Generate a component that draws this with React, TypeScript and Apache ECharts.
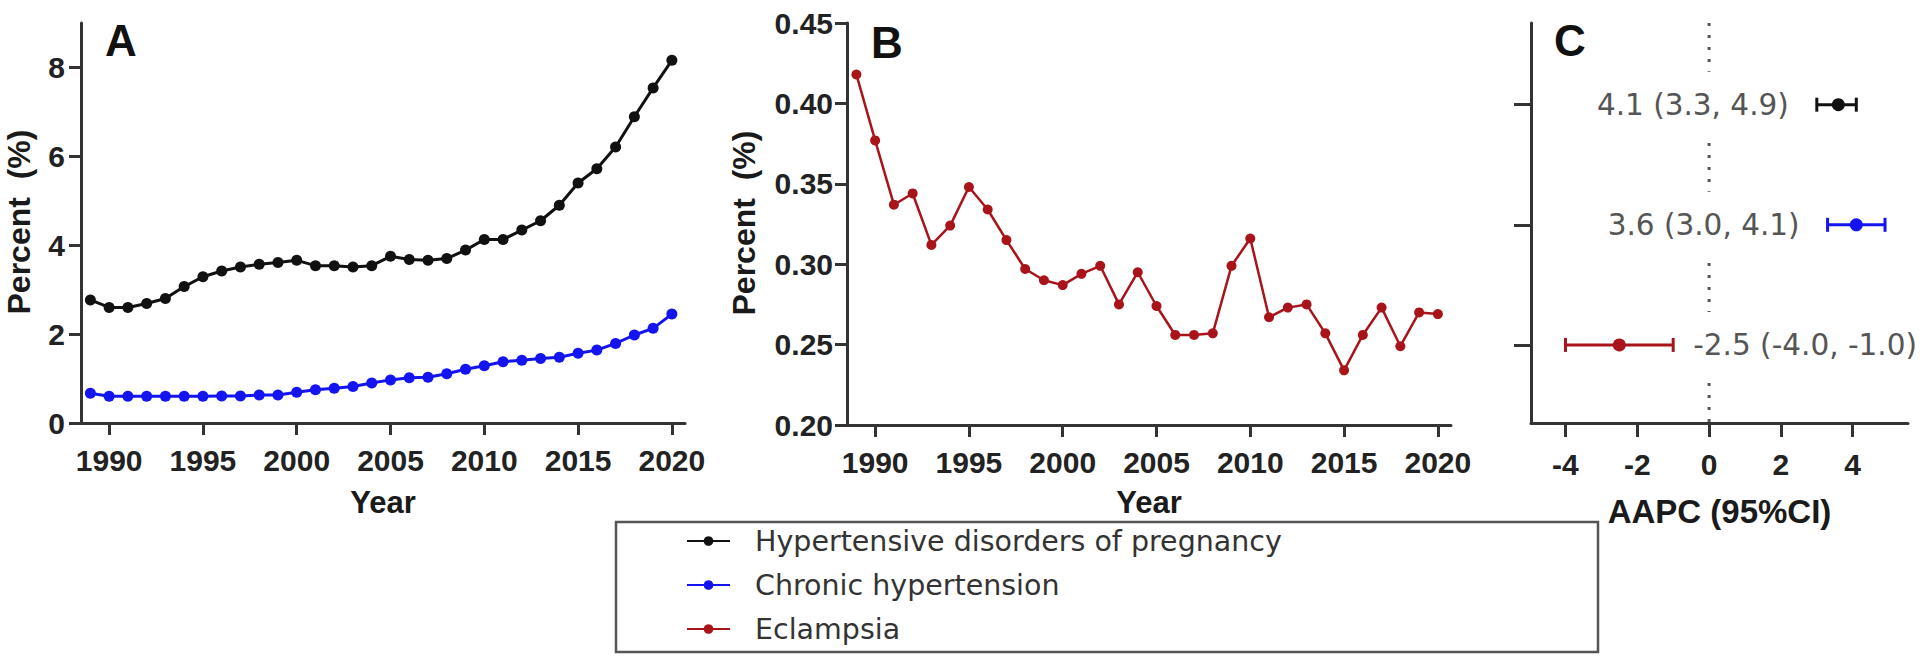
import React, { useEffect, useRef } from 'react';
import * as echarts from 'echarts';

// ---------- data ----------
const years = [
  1989, 1990, 1991, 1992, 1993, 1994, 1995, 1996, 1997, 1998, 1999, 2000, 2001, 2002, 2003, 2004,
  2005, 2006, 2007, 2008, 2009, 2010, 2011, 2012, 2013, 2014, 2015, 2016, 2017, 2018, 2019, 2020,
];
const yearTicks = [1990, 1995, 2000, 2005, 2010, 2015, 2020];

// Panel A (%)
const hdpValues = [
  2.77, 2.6, 2.6, 2.69, 2.8, 3.07, 3.29, 3.42, 3.51, 3.57, 3.61, 3.66, 3.54, 3.54, 3.51, 3.54,
  3.75, 3.68, 3.66, 3.7, 3.89, 4.13, 4.13, 4.34, 4.55, 4.9, 5.4, 5.72, 6.21, 6.89, 7.54, 8.16,
];
const chronicValues = [
  0.67, 0.6, 0.6, 0.6, 0.6, 0.6, 0.6, 0.61, 0.61, 0.63, 0.63, 0.69, 0.75, 0.78, 0.82, 0.9,
  0.97, 1.02, 1.03, 1.11, 1.21, 1.29, 1.38, 1.41, 1.45, 1.48, 1.57, 1.64, 1.79, 1.98, 2.13, 2.45,
];
const aTicks = [0, 2, 4, 6, 8];

// Panel B (%)
const eclampsiaValues = [
  0.418, 0.377, 0.337, 0.344, 0.312, 0.324, 0.348, 0.334, 0.315, 0.297, 0.29, 0.287, 0.294, 0.299,
  0.275, 0.295, 0.274, 0.256, 0.256, 0.257, 0.299, 0.316, 0.267, 0.273, 0.275, 0.257, 0.234, 0.256,
  0.273, 0.249, 0.27, 0.269,
];
const bTicks = [0.2, 0.25, 0.3, 0.35, 0.4, 0.45];

// Panel C (AAPC with 95% CI), as drawn
const ciRows = [1, 2, 3];
const ciEstimate = [3.6, 4.1, -2.5];
const ciLow = [3.0, 3.3, -4.0];
const ciHigh = [4.1, 4.9, -1.0];
const ciLabels = ['4.1 (3.3, 4.9)', '3.6 (3.0, 4.1)', '-2.5 (-4.0, -1.0)'];
const cTicks = [-4, -2, 0, 2, 4];

const seriesNames = ['Hypertensive disorders of pregnancy', 'Chronic hypertension', 'Eclampsia'];

// ---------- styles ----------
const FONT_BOLD = '"Liberation Sans", Arial, sans-serif';
const FONT_REG = '"DejaVu Sans", "Liberation Sans", sans-serif';
const COL_BLACK = '#111111';
const COL_BLUE = '#1414f0';
const COL_RED = '#a8141a';
const ciColors = [COL_BLACK, COL_BLUE, COL_RED];
const ciLabelSide = ['left', 'left', 'right'];
const C_Y_MIN = 0.32;
const C_Y_MAX = 3.65;

export default function App() {
  const ref = useRef<HTMLDivElement>(null);

  useEffect(() => {
    if (!ref.current) return;
    const chart = echarts.init(ref.current, null, { renderer: 'svg' });

    const axisLine = { show: true, onZero: false, lineStyle: { color: '#333', width: 3 } };
    const tick = (len: number, values: number[]) => ({
      show: true,
      length: len,
      customValues: values,
      lineStyle: { color: '#333', width: 3 },
    });
    const label = (margin: number, values: number[], fmt?: (v: number) => string) => ({
      show: true,
      margin,
      customValues: values,
      fontSize: 30,
      fontWeight: 'bold',
      fontFamily: FONT_BOLD,
      color: '#222',
      formatter: fmt,
    });
    const nameStyle = (size: number) => ({
      fontSize: size,
      fontWeight: 'bold',
      fontFamily: FONT_BOLD,
      color: '#1a1a1a',
    });

    const option: any = {
      animation: false,
      backgroundColor: '#ffffff',
      grid: [
        { left: 81, top: 23, width: 604, height: 400 },
        { left: 847, top: 23, width: 604, height: 402 },
        { left: 1531, top: 23, width: 377, height: 400 },
      ],
      xAxis: [
        {
          gridIndex: 0,
          type: 'value',
          min: 1988.5,
          max: 2020.7,
          axisLine,
          axisTick: tick(12, yearTicks),
          axisLabel: label(22, yearTicks, (v: number) => String(v)),
          splitLine: { show: false },
          name: 'Year',
          nameLocation: 'middle',
          nameGap: 64,
          nameTextStyle: nameStyle(31),
        },
        {
          gridIndex: 1,
          type: 'value',
          min: 1988.5,
          max: 2020.7,
          axisLine,
          axisTick: tick(12, yearTicks),
          axisLabel: label(22, yearTicks, (v: number) => String(v)),
          splitLine: { show: false },
          name: 'Year',
          nameLocation: 'middle',
          nameGap: 62,
          nameTextStyle: nameStyle(31),
        },
        {
          gridIndex: 2,
          type: 'value',
          min: -4.96,
          max: 5.54,
          axisLine,
          axisTick: tick(14, cTicks),
          axisLabel: label(26, cTicks, (v: number) => String(v)),
          splitLine: { show: false },
          name: 'AAPC (95%CI)',
          nameLocation: 'middle',
          nameGap: 72,
          nameTextStyle: nameStyle(33),
        },
      ],
      yAxis: [
        {
          gridIndex: 0,
          type: 'value',
          min: 0,
          max: 9,
          axisLine,
          axisTick: tick(12, aTicks),
          axisLabel: label(16, aTicks, (v: number) => String(v)),
          splitLine: { show: false },
        },
        {
          gridIndex: 1,
          type: 'value',
          min: 0.2,
          max: 0.45,
          axisLine,
          axisTick: tick(12, bTicks),
          axisLabel: label(14, bTicks, (v: number) => v.toFixed(2)),
          splitLine: { show: false },
        },
        {
          gridIndex: 2,
          type: 'value',
          inverse: true,
          min: C_Y_MIN,
          max: C_Y_MAX,
          axisLine,
          axisTick: tick(17, ciRows),
          axisLabel: { show: false },
          splitLine: { show: false },
        },
      ],
      legend: {
        orient: 'vertical',
        left: 686,
        top: 524,
        padding: 0,
        itemWidth: 43,
        itemHeight: 12,
        itemGap: 10,
        selectedMode: false,
        data: seriesNames,
        textStyle: {
          fontSize: 28.5,
          fontFamily: FONT_REG,
          color: '#333',
          lineHeight: 34,
          padding: [0, 0, 0, 20],
        },
      },
      series: [
        {
          name: seriesNames[0],
          type: 'line',
          xAxisIndex: 0,
          yAxisIndex: 0,
          data: years.map((y, i) => [y, hdpValues[i]]),
          symbol: 'circle',
          symbolSize: 11,
          lineStyle: { color: COL_BLACK, width: 3 },
          itemStyle: { color: COL_BLACK },
          z: 3,
        },
        {
          name: seriesNames[1],
          type: 'line',
          xAxisIndex: 0,
          yAxisIndex: 0,
          data: years.map((y, i) => [y, chronicValues[i]]),
          symbol: 'circle',
          symbolSize: 11,
          lineStyle: { color: COL_BLUE, width: 3 },
          itemStyle: { color: COL_BLUE },
          z: 3,
        },
        {
          name: seriesNames[2],
          type: 'line',
          xAxisIndex: 1,
          yAxisIndex: 1,
          data: years.map((y, i) => [y, eclampsiaValues[i]]),
          symbol: 'circle',
          symbolSize: 10,
          lineStyle: { color: COL_RED, width: 2.5 },
          itemStyle: { color: COL_RED },
          z: 3,
        },
        {
          name: 'zero',
          type: 'line',
          xAxisIndex: 2,
          yAxisIndex: 2,
          data: [
            [0, C_Y_MIN],
            [0, C_Y_MAX],
          ],
          symbol: 'none',
          silent: true,
          lineStyle: { color: '#555', width: 3, type: [3, 9] },
          z: 1,
        },
        {
          name: 'aapc',
          type: 'custom',
          xAxisIndex: 2,
          yAxisIndex: 2,
          z: 5,
          data: ciRows.map((r, i) => [ciEstimate[i], r, ciLow[i], ciHigh[i]]),
          renderItem: (params: any, api: any) => {
            const i = params.dataIndex;
            const row = api.value(1);
            const pE = api.coord([api.value(0), row]);
            const pL = api.coord([api.value(2), row]);
            const pH = api.coord([api.value(3), row]);
            const color = ciColors[i];
            const cap = 7;
            const left = ciLabelSide[i] === 'left';
            return {
              type: 'group',
              children: [
                {
                  type: 'text',
                  x: left ? pL[0] - 26 : pH[0] + 18,
                  y: pE[1],
                  style: {
                    text: ciLabels[i],
                    fill: '#555',
                    fontSize: 29.5,
                    fontFamily: FONT_REG,
                    align: left ? 'right' : 'left',
                    verticalAlign: 'middle',
                    backgroundColor: '#ffffff',
                    padding: [18, 2, 18, 2],
                  },
                },
                {
                  type: 'line',
                  shape: { x1: pL[0], y1: pL[1], x2: pH[0], y2: pH[1] },
                  style: { stroke: color, lineWidth: 3 },
                },
                {
                  type: 'line',
                  shape: { x1: pL[0], y1: pL[1] - cap, x2: pL[0], y2: pL[1] + cap },
                  style: { stroke: color, lineWidth: 3 },
                },
                {
                  type: 'line',
                  shape: { x1: pH[0], y1: pH[1] - cap, x2: pH[0], y2: pH[1] + cap },
                  style: { stroke: color, lineWidth: 3 },
                },
                {
                  type: 'circle',
                  shape: { cx: pE[0], cy: pE[1], r: 6.5 },
                  style: { fill: color },
                },
              ],
            };
          },
        },
      ],
      graphic: [
        {
          type: 'text',
          x: 121,
          y: 40,
          style: { text: 'A', fontSize: 44, fontWeight: 'bold', fontFamily: FONT_BOLD, fill: '#111', align: 'center', verticalAlign: 'middle' },
        },
        {
          type: 'text',
          x: 887,
          y: 42,
          style: { text: 'B', fontSize: 44, fontWeight: 'bold', fontFamily: FONT_BOLD, fill: '#111', align: 'center', verticalAlign: 'middle' },
        },
        {
          type: 'text',
          x: 1570,
          y: 40,
          style: { text: 'C', fontSize: 44, fontWeight: 'bold', fontFamily: FONT_BOLD, fill: '#111', align: 'center', verticalAlign: 'middle' },
        },
        {
          type: 'text',
          x: 19,
          y: 222,
          rotation: Math.PI / 2,
          style: { text: 'Percent  (%)', fontSize: 32, fontWeight: 'bold', fontFamily: FONT_BOLD, fill: '#1a1a1a', align: 'center', verticalAlign: 'middle' },
        },
        {
          type: 'text',
          x: 744,
          y: 223,
          rotation: Math.PI / 2,
          style: { text: 'Percent  (%)', fontSize: 32, fontWeight: 'bold', fontFamily: FONT_BOLD, fill: '#1a1a1a', align: 'center', verticalAlign: 'middle' },
        },
        {
          type: 'rect',
          shape: { x: 616, y: 522, width: 982, height: 130 },
          style: { fill: 'none', stroke: '#555', lineWidth: 2.5 },
          z: -1,
        },
      ],
    };

    chart.setOption(option);
    return () => chart.dispose();
  }, []);

  return (
    <div
      ref={ref}
      style={{ position: 'fixed', left: 0, top: 0, width: 1920, height: 662, background: '#fff' }}
    />
  );
}
